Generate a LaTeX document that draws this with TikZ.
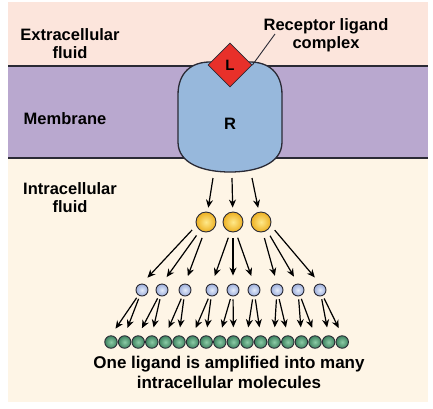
\documentclass[tikz,border=0pt]{standalone}
\usepackage{fontspec}
\setmainfont{Liberation Sans}
\definecolor{ExtraPink}{HTML}{FCE5DC}
\definecolor{MembranePurple}{HTML}{B9A8CF}
\definecolor{IntraCream}{HTML}{FEF5E6}
\definecolor{ReceptorBlue}{HTML}{97B8DC}
\definecolor{LigandRed}{HTML}{E8302A}
\definecolor{OutlineDark}{HTML}{2A2A35}
\definecolor{GoldIn}{HTML}{FFE98A}
\definecolor{GoldOut}{HTML}{EDB022}
\definecolor{BlueIn}{HTML}{E4ECFA}
\definecolor{BlueOut}{HTML}{9DAEDB}
\definecolor{GreenIn}{HTML}{8CCBA6}
\definecolor{GreenOut}{HTML}{3E8360}
\usetikzlibrary{shapes.geometric,arrows.meta,positioning}
\tikzset{
    % Text labels
    region label/.style={
        font=\fontsize{16.5}{18}\selectfont\bfseries,
        align=center,
        text=black,
        inner sep=0pt
    },
    % Ligand on top of receptor
    ligand/.style={
        diamond,
        draw=OutlineDark,
        thick,
        fill=LigandRed,
        minimum size=44pt,
        inner sep=0pt,
        font=\fontsize{15}{15}\selectfont\bfseries
    },
    % Molecules of the cascade
    mol big/.style={
        circle,
        draw=OutlineDark,
        line width=0.9pt,
        inner color=GoldIn,
        outer color=GoldOut,
        minimum size=20pt,
        inner sep=0pt
    },
    mol mid/.style={
        mol big,
        inner color=BlueIn,
        outer color=BlueOut,
        minimum size=12pt
    },
    mol small/.style={
        mol big,
        inner color=GreenIn,
        outer color=GreenOut,
        minimum size=12.5pt
    },
    arrow/.style={
        -{Stealth[length=8pt,width=7pt]},
        line width=1.2pt,
        shorten <=3pt,
        shorten >=8pt
    }
}

\begin{document}
\begin{tikzpicture}[x=1pt, y=-1pt]
        \useasboundingbox (0,0) rectangle (433,408);

        % Fluids and membrane
        \fill[white] (0,0) rectangle (433,408);
        \fill[ExtraPink] (8,2) rectangle (428,66);
        \fill[MembranePurple] (8,66) rectangle (428,158);
        \fill[IntraCream] (8,158) rectangle (428,402);
        \draw[OutlineDark, line width=1.4pt] (8,66) -- (428,66);
        \draw[OutlineDark, line width=1.4pt] (8,158) -- (428,158);

        % Receptor
        \draw[OutlineDark, line width=1.3pt, fill=ReceptorBlue]
            (178,95) -- (178,142) .. controls (178,164) and (204,172) .. (230,172)
            .. controls (256,172) and (282,164) .. (282,142) -- (282,95)
            .. controls (282,72) and (268,62) .. (250,62) -- (210,62)
            .. controls (192,62) and (178,72) .. (178,95) -- cycle;
        \node[region label] (rec) at (230,124) {R};
        \node[ligand] (lig) at (230,65) {L};

        % Labels on the left
        \node[region label] (extra) at (70,44) {Extracellular\\fluid};
        \node[region label] (memb) at (65,119) {Membrane};
        \node[region label] (intra) at (70,198) {Intracellular\\fluid};
        \node[region label] (cplx) at (326,35) {Receptor ligand\\complex};
        \coordinate (lead) at (275,34);
        \draw[OutlineDark, line width=0.9pt] (lig.east) -- (lead);

        % Cascade
        \coordinate (r1) at (213,178);
        \coordinate (r2) at (232,178);
        \coordinate (r3) at (252,178);
        \node[mol big] (y1) at (206,222) {};
        \node[mol big] (y2) at (233,222) {};
        \node[mol big] (y3) at (261,222) {};
        \foreach \x [count=\i] in {142,162,185,212,233,254,277,298,320}
            \node[mol mid] (b\i) at (\x,290) {};
        \foreach \i in {1,...,18}
            \node[mol small] (g\i) at ({97.4+13.6*\i},342) {};

        % Arrows
        \draw[arrow, shorten <=0pt, shorten >=4pt] (r1) -- (y1);
        \draw[arrow, shorten <=0pt, shorten >=4pt] (r2) -- (y2);
        \draw[arrow, shorten <=0pt, shorten >=4pt] (r3) -- (y3);
        \foreach \ang [count=\i] in {200,235,260,255,270,285,280,305,340} {
            \pgfmathtruncatemacro\p{int((\i+2)/3)}
            \pgfmathtruncatemacro\a{2*\i-1}
            \pgfmathtruncatemacro\b{2*\i}
            \draw[arrow, shorten <=6pt] (y\p.\ang) -- (b\i.north);
            \draw[arrow] (b\i) -- (g\a.north);
            \draw[arrow] (b\i) -- (g\b.north);
        }

        \node[region label, font=\fontsize{17}{20}\selectfont\bfseries] (summary) at (229,372)
            {One ligand is amplified into many\\intracellular molecules};
    \end{tikzpicture}
\end{document}
